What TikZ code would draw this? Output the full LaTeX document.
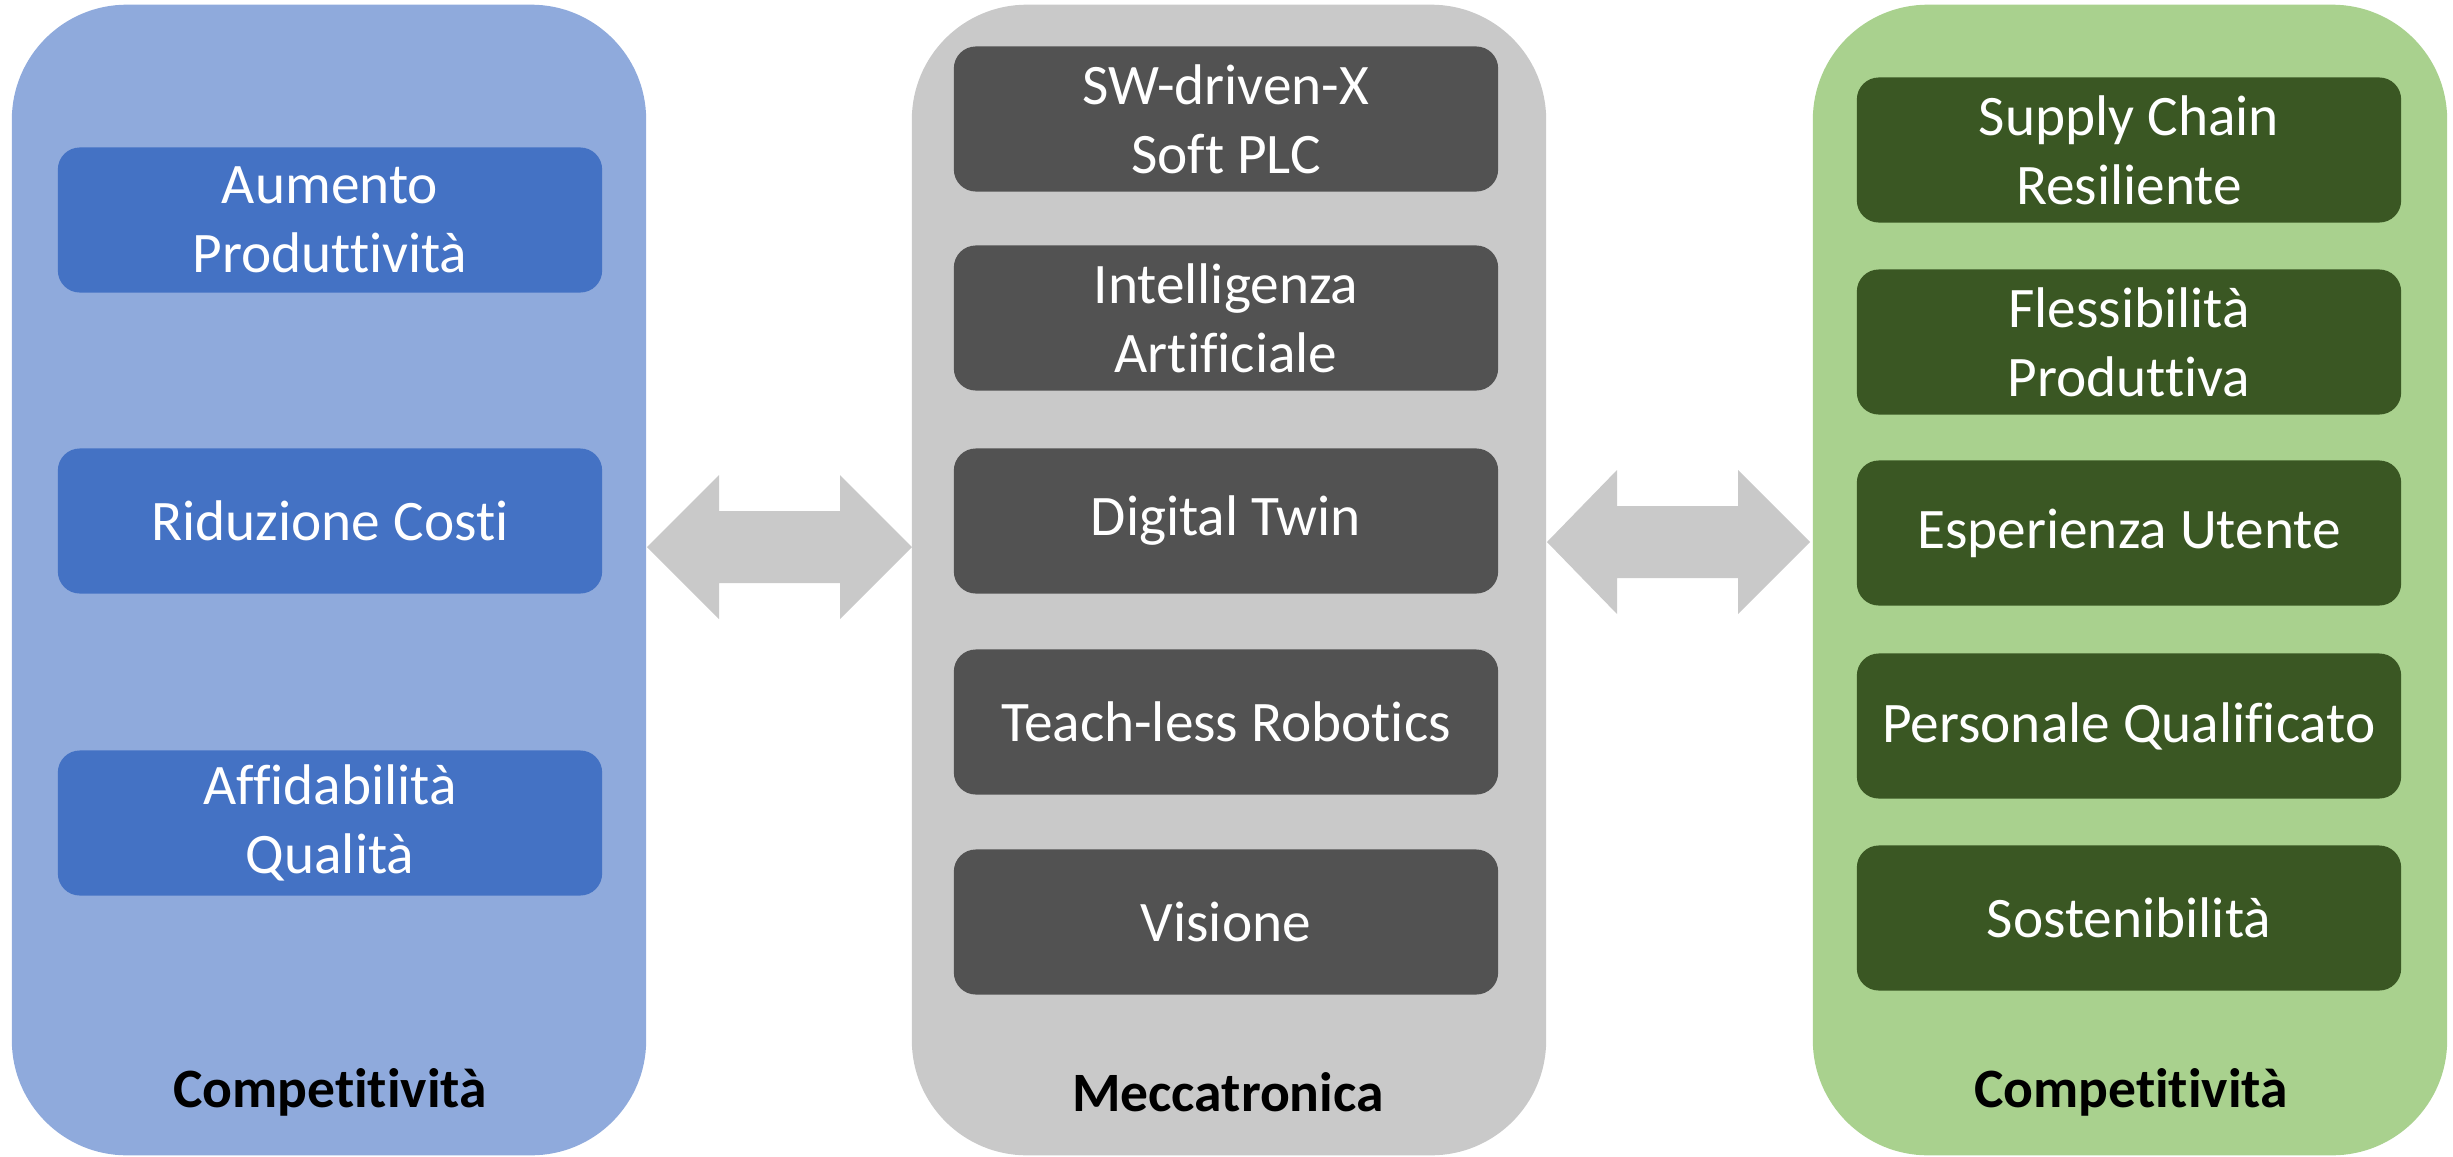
\documentclass[tikz,border=0pt]{standalone}
\usepackage{fontspec}
\setmainfont{Carlito}[Ligatures=NoCommon]
\usetikzlibrary{positioning}

\definecolor{bluepanel}{HTML}{8FAADC}
\definecolor{bluebox}{HTML}{4472C4}
\definecolor{greypanel}{HTML}{C9C9C9}
\definecolor{greybox}{HTML}{525252}
\definecolor{greenpanel}{HTML}{A9D18E}
\definecolor{greenbox}{HTML}{3A5723}

\begin{document}
\begin{tikzpicture}[x=0.01cm, y=-0.01cm,
  panel/.style={rectangle, rounded corners=1.15cm, minimum width=6.34cm, minimum height=11.5cm, inner sep=0pt},
  item/.style={rectangle, rounded corners=0.22cm, minimum width=5.44cm, minimum height=1.45cm, text=white, align=center, font=\fontsize{16.3}{19.6}\selectfont},
  title/.style={font=\fontsize{15.8}{19.4}\selectfont\bfseries},
  link/.style={fill=greypanel}]
  \useasboundingbox (0,0) rectangle (2453,1157);

  % the three columns
  \node[panel, fill=bluepanel] (compL) at (329,580) {};
  \node[panel, fill=greypanel] (mecc) at (1229,580) {};
  \node[panel, fill=greenpanel] (compR) at (2130,580) {};

  % left column
  \node[item, fill=bluebox] (aum) at (330,220) {Aumento\\Produttività};
  \node[item, fill=bluebox] (costi) at (330,521) {Riduzione Costi};
  \node[item, fill=bluebox] (aff) at (330,823) {Affidabilità\\Qualità};
  \node[title] (tL) at (330,1092) {Competitività};

  % middle column
  \node[item, fill=greybox] (sw) at (1226,119) {SW-driven-X\\Soft PLC};
  \node[item, fill=greybox] (ai) at (1226,318) {Intelligenza\\Artificiale};
  \node[item, fill=greybox] (twin) at (1226,521) {Digital Twin};
  \node[item, fill=greybox] (robo) at (1226,722) {Teach-less Robotics};
  \node[item, fill=greybox] (vis) at (1226,922) {Visione};
  \node[title] (tM) at (1228,1092) {Meccatronica};

  % right column
  \node[item, fill=greenbox] (supply) at (2129,150) {Supply Chain\\Resiliente};
  \node[item, fill=greenbox] (flex) at (2129,342) {Flessibilità\\Produttiva};
  \node[item, fill=greenbox] (esp) at (2129,533) {Esperienza Utente};
  \node[item, fill=greenbox] (pers) at (2129,726) {Personale Qualificato};
  \node[item, fill=greenbox] (sost) at (2129,918) {Sostenibilità};
  \node[title] (tR) at (2131,1092) {Competitività};

  % double arrows between the columns
  \coordinate (lA) at (647,547);
  \coordinate (lB) at (912,547);
  \coordinate (rA) at (1547,542);
  \coordinate (rB) at (1810,542);
  \fill[link] (lA) -- ++(72,-72) -- ++(0,36) -- ++(121,0) -- ++(0,-36) -- (lB)
    -- ++(-72,72) -- ++(0,-36) -- ++(-121,0) -- ++(0,36) -- cycle;
  \fill[link] (rA) -- ++(70,-72) -- ++(0,36) -- ++(121,0) -- ++(0,-36) -- (rB)
    -- ++(-72,72) -- ++(0,-36) -- ++(-121,0) -- ++(0,36) -- cycle;
\end{tikzpicture}
\end{document}
